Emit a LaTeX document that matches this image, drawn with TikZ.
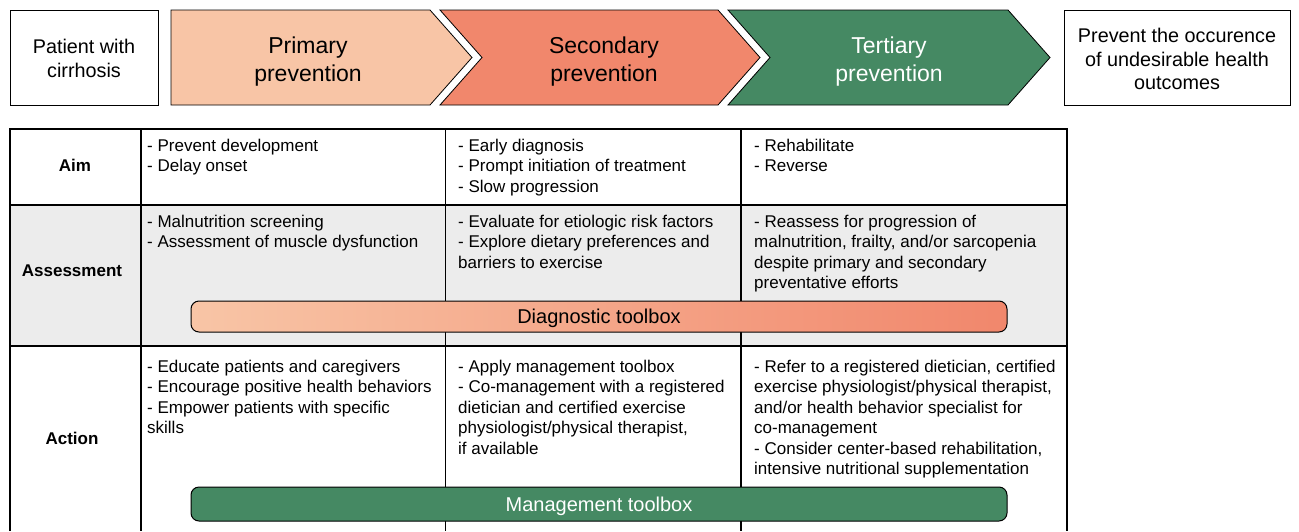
\documentclass[tikz,border=0pt]{standalone}
\usepackage{fontspec}
\setmainfont{Liberation Sans}
\definecolor{peach}{RGB}{248,197,166}
\definecolor{salmon}{RGB}{241,135,108}
\definecolor{forest}{RGB}{69,137,99}
\definecolor{rowgrey}{RGB}{236,236,236}
\begin{document}
\begin{tikzpicture}[x=1pt,y=-1pt,
  plainbox/.style={draw=black,line width=0.9pt,fill=white},
  chev/.style={draw=black,line width=0.8pt},
  headtxt/.style={font=\fontsize{23}{28}\selectfont,align=center,inner sep=0pt},
  sidetxt/.style={font=\fontsize{19.8}{23.8}\selectfont,align=center,inner sep=0pt},
  celltxt/.style={font=\fontsize{17}{20.5}\selectfont,align=left,inner sep=0pt,anchor=north west},
  rowlabel/.style={font=\bfseries\fontsize{17}{20.5}\selectfont,inner sep=0pt},
  tline/.style={line width=1.4pt,black},
  bar/.style={draw=black,line width=1pt,rounded corners=8pt},
  bartxt/.style={font=\fontsize{20}{24}\selectfont,inner sep=0pt}]
\useasboundingbox (0,0) rectangle (1299,531);
\fill[white] (0,0) rectangle (1299,531);

% top row
\draw[plainbox] (10,10) rectangle (158,105);
\node[sidetxt] (patient) at (84,58.5) {Patient with\\cirrhosis};
\draw[chev,fill=peach] (171,10) -- (430,10) -- (472,57.5) -- (430,105) -- (171,105) -- cycle;
\node[headtxt] (primary) at (308,62) {Primary\\prevention};
\draw[chev,fill=salmon] (440,10) -- (718,10) -- (760,57.5) -- (718,105) -- (440,105) -- (482,57.5) -- cycle;
\node[headtxt] (secondary) at (604,62) {Secondary\\prevention};
\draw[chev,fill=forest] (728,10) -- (1008,10) -- (1050,57.5) -- (1008,105) -- (728,105) -- (770,57.5) -- cycle;
\node[headtxt,text=white] (tertiary) at (889,62) {Tertiary\\prevention};
\draw[plainbox] (1064,10) rectangle (1290,105);
\node[sidetxt] (outcome) at (1177,59) {Prevent the occurence\\of undesirable health\\outcomes};

% table
\fill[rowgrey] (10,205) rectangle (1067,346);
\draw[tline] (10,531) -- (10,129) -- (1067,129) -- (1067,531);
\draw[tline] (10,205) -- (1067,205);
\draw[tline] (10,346) -- (1067,346);
\draw[tline] (141,129) -- (141,531);
\draw[tline] (445.5,129) -- (445.5,531);
\draw[tline] (741,129) -- (741,531);

\node[rowlabel] (aim) at (75,165.5) {Aim};
\node[rowlabel] (assess) at (72,270.5) {Assessment};
\node[rowlabel] (action) at (72,438.5) {Action};

\node[celltxt] (a1) at (147,138.5) {- Prevent development\\- Delay onset};
\node[celltxt] (a2) at (458,138.5) {- Early diagnosis\\- Prompt initiation of treatment\\- Slow progression};
\node[celltxt] (a3) at (754,138.5) {- Rehabilitate\\- Reverse};

\node[celltxt] (b1) at (147,214.5) {- Malnutrition screening\\- Assessment of muscle dysfunction};
\node[celltxt] (b2) at (458,214.5) {- Evaluate for etiologic risk factors\\- Explore dietary preferences and\\barriers to exercise};
\node[celltxt] (b3) at (754,214.5) {- Reassess for progression of\\malnutrition, frailty, and/or sarcopenia\\despite primary and secondary\\preventative efforts};

\node[celltxt] (c1) at (147,359.5) {- Educate patients and caregivers\\- Encourage positive health behaviors\\- Empower patients with specific\\skills};
\node[celltxt] (c2) at (458,359.5) {- Apply management toolbox\\- Co-management with a registered\\dietician and certified exercise\\physiologist/physical therapist,\\if available};
\node[celltxt] (c3) at (754,359.5) {- Refer to a registered dietician, certified\\exercise physiologist/physical therapist,\\and/or health behavior specialist for\\co-management\\- Consider center-based rehabilitation,\\intensive nutritional supplementation};

% toolboxes
\draw[bar,left color=peach,right color=salmon] (191,301) rectangle (1007,332);
\node[bartxt] (diag) at (599,318) {Diagnostic toolbox};
\draw[bar,fill=forest] (191,487) rectangle (1007,521);
\node[bartxt,text=white] (manage) at (599,506) {Management toolbox};
\end{tikzpicture}
\end{document}
